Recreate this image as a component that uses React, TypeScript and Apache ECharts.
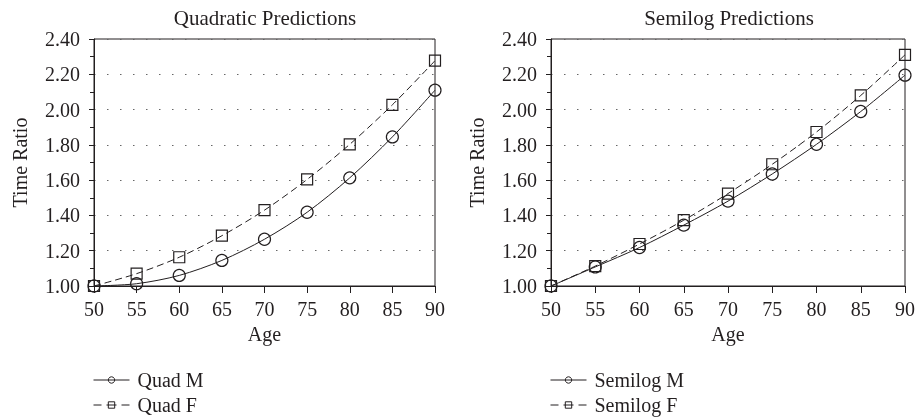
import React, { useEffect, useRef } from "react";
import * as echarts from "echarts";

const ages = [50, 55, 60, 65, 70, 75, 80, 85, 90];
const quadM = [1.0, 1.013, 1.06, 1.145, 1.265, 1.418, 1.613, 1.845, 2.11];
const quadF = [1.0, 1.07, 1.163, 1.285, 1.43, 1.604, 1.803, 2.027, 2.277];
const semiM = [1.0, 1.108, 1.218, 1.345, 1.481, 1.635, 1.803, 1.989, 2.195];
const semiF = [1.0, 1.113, 1.238, 1.373, 1.524, 1.69, 1.873, 2.08, 2.31];
const yTicks = ["1.00", "1.20", "1.40", "1.60", "1.80", "2.00", "2.20", "2.40"];
const titles = ["Quadratic Predictions", "Semilog Predictions"];
const legendNames = [["Quad M", "Quad F"], ["Semilog M", "Semilog F"]];

const FONT = "Liberation Serif";
const INK = "#231f20";
const FS = 20;

export default function App() {
  const ref = useRef<HTMLDivElement>(null);
  useEffect(() => {
    if (!ref.current) return;
    document.body.style.margin = "0";
    document.body.style.overflow = "hidden";
    const chart = echarts.init(ref.current, undefined, { renderer: "svg" });
    const pair = (a: number[]) => ages.map((x, i) => [x, a[i]]);
    const grids = [
      { left: 94, right: 483, top: 39, bottom: 131 },
      { left: 551, right: 10, top: 39, bottom: 131 },
    ];
    const xAxis = grids.map((_, i) => ({
      type: "value",
      gridIndex: i,
      min: 50,
      max: 90,
      interval: 5,
      name: "Age",
      nameLocation: "middle",
      nameGap: 37,
      nameTextStyle: { fontFamily: FONT, fontSize: FS, color: INK },
      axisLine: { lineStyle: { color: INK, width: 1 } },
      axisTick: { show: true, length: 7, lineStyle: { color: INK } },
      axisLabel: { fontFamily: FONT, fontSize: FS, color: INK, margin: 13 },
      splitLine: { show: false },
    }));
    const yAxis = grids.map((_, i) => ({
      type: "value",
      gridIndex: i,
      min: 1,
      max: 2.4,
      interval: 0.2,
      name: "Time Ratio",
      nameLocation: "middle",
      nameGap: 64,
      nameTextStyle: { fontFamily: FONT, fontSize: FS, color: INK },
      axisLine: { show: true, lineStyle: { color: INK, width: 1 } },
      axisTick: { show: true, length: 5, lineStyle: { color: INK } },
      minorTick: { show: true, splitNumber: 2, length: 4, lineStyle: { color: INK } },
      axisLabel: {
        fontFamily: FONT,
        fontSize: FS,
        color: INK,
        margin: 14,
        formatter: (v: number) => yTicks[Math.round((v - 1) / 0.2)] ?? v.toFixed(2),
      },
      splitLine: { show: true, lineStyle: { color: "#666", type: [1.5, 11.5], width: 1 } },
    }));
    const mk = (name: string, data: number[], idx: number, dashed: boolean) => ({
      name,
      type: "line",
      xAxisIndex: idx,
      yAxisIndex: idx,
      data: pair(data),
      smooth: 0.3,
      symbol: dashed ? "rect" : "circle",
      symbolSize: dashed ? 11 : 12,
      showSymbol: true,
      itemStyle: { color: "rgba(255,255,255,0)", borderColor: INK, borderWidth: 1.2 },
      lineStyle: { color: INK, width: 1, type: dashed ? [7, 4] : "solid" },
      z: 3,
    });
    const legends: any[] = [];
    legendNames.forEach((names, gi) => {
      names.forEach((n, ri) => {
        legends.push({
          orient: "horizontal",
          left: grids[gi].left - 1,
          top: 370 + ri * 25,
          itemWidth: 36,
          itemHeight: 8,
          padding: 0,
          data: [n],
          itemStyle: { color: "rgba(255,255,255,0)", borderColor: INK, borderWidth: 1 },
          lineStyle: ri === 1 ? { type: [8, 5, 10, 5, 8, 40], width: 1, color: INK } : { width: 1, color: INK },
          textStyle: { fontFamily: FONT, fontSize: FS, color: INK, padding: [0, 0, 0, 3] },
        });
      });
    });
    chart.setOption({
      animation: false,
      grid: grids.map((g) => ({ ...g, show: true, borderColor: INK, borderWidth: 1, backgroundColor: "transparent" })),
      xAxis,
      yAxis,
      legend: legends,
      graphic: titles.map((t, i) => ({
        type: "text",
        x: i === 0 ? 265 : 729,
        y: 7,
        style: { text: t, textAlign: "center", fontFamily: FONT, fontSize: 21, fill: INK },
      })),
      series: [
        mk("Quad M", quadM, 0, false),
        mk("Quad F", quadF, 0, true),
        mk("Semilog M", semiM, 1, false),
        mk("Semilog F", semiF, 1, true),
      ],
    });
    return () => chart.dispose();
  }, []);
  return <div ref={ref} style={{ position: "fixed", left: 0, top: 0, width: 918, height: 417 }} />;
}
